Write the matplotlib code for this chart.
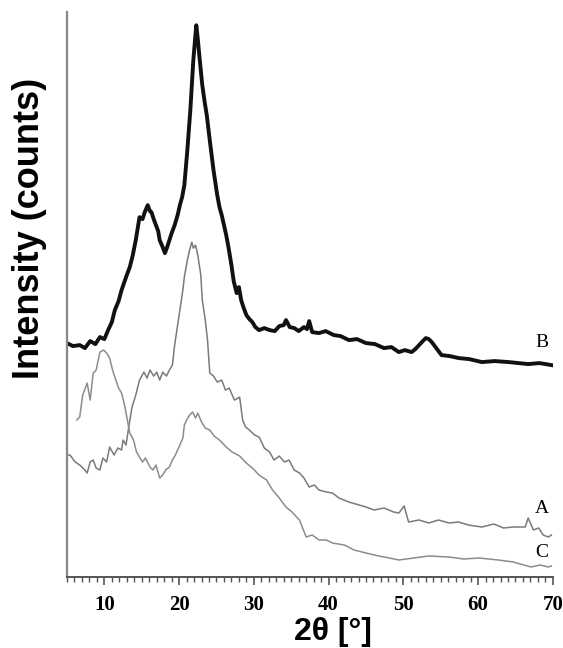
import numpy as np
import matplotlib.pyplot as plt
from matplotlib.ticker import MultipleLocator

# curve B (black, top)
b_x = [5.0, 5.8, 6.7, 7.4, 8.1, 8.8, 9.4, 10.0, 10.5, 11.0, 11.4, 11.9, 12.3, 12.9, 13.4,
       13.8, 14.2, 14.7, 15.1, 15.4, 15.8, 16.1, 16.3, 16.6, 16.9, 17.2, 17.4, 17.8,
       18.1, 18.4, 18.7, 19.0, 19.4, 19.8, 20.1, 20.4, 20.7, 21.1, 21.5, 21.9, 22.1,
       22.3, 22.5, 22.7, 23.1, 23.4, 23.7, 24.1, 24.6, 25.1, 25.4, 25.7, 26.3, 26.6,
       27.0, 27.3, 27.7, 28.0, 28.3, 28.6, 29.0, 29.4, 29.8, 30.2, 30.7, 31.4, 32.1,
       32.8, 33.4, 34.0, 34.3, 34.8, 35.4, 36.0, 36.7, 37.1, 37.4, 37.8, 38.7, 39.6,
       40.7, 41.6, 42.7, 43.8, 45.0, 46.2, 47.4, 48.4, 49.4, 50.2, 51.1, 51.6, 52.1,
       52.6, 53.0, 53.4, 53.8, 54.4, 55.1, 56.2, 57.4, 58.8, 60.5, 62.2, 64.1, 65.4,
       66.7, 68.2, 69.8]
b_y = [234, 231, 232, 229, 236, 233, 240, 238, 247, 255, 267, 276, 287, 300, 310,
       322, 337, 360, 358, 365, 372, 366, 365, 358, 352, 346, 337, 330,
       324, 330, 337, 344, 352, 362, 372, 380, 392, 427, 467, 517, 535,
       552, 538, 522, 492, 476, 462, 437, 407, 382, 370, 362, 342, 330,
       312, 296, 284, 290, 277, 270, 262, 258, 255, 250, 247, 249, 247,
       246, 251, 252, 257, 250, 249, 246, 250, 248, 256, 245, 244, 246,
       242, 241, 237, 238, 234, 233, 229, 230, 225, 227, 225, 228, 232,
       236, 239, 238, 235, 229, 222, 221, 219, 218, 215, 216, 215, 214,
       213, 214, 212]

# curve A (grey, middle)
a_x = [5.0, 5.4, 6.1, 6.7, 7.4, 7.7, 8.1, 8.5, 8.9, 9.4, 9.8, 10.3, 10.7, 11.3, 11.8,
       12.3, 12.5, 12.9, 13.3, 13.7, 14.2, 14.7, 15.3, 15.7, 16.1, 16.6, 17.0, 17.4,
       17.8, 18.3, 18.7, 19.1, 19.4, 19.7, 20.1, 20.5, 20.7, 21.1, 21.4, 21.7, 21.9,
       22.2, 22.5, 22.9, 23.1, 23.5, 23.8, 24.1, 24.6, 25.1, 25.7, 26.2, 26.7, 27.4,
       28.1, 28.5, 28.9, 29.4, 30.1, 30.7, 31.4, 32.1, 32.7, 33.4, 34.1, 34.7, 35.4,
       36.1, 36.7, 37.4, 38.1, 38.7, 39.7, 40.5, 41.4, 42.7, 44.1, 45.0, 46.1, 47.4,
       48.7, 49.4, 50.1, 50.7, 52.1, 53.4, 54.7, 56.1, 57.4, 58.7, 60.5, 62.1, 63.4,
       64.7, 66.3, 66.7, 67.4, 68.1, 68.7, 69.4, 69.8]
a_y = [122, 122, 115, 112, 107, 104, 115, 117, 109, 107, 119, 115, 130, 122, 129,
       127, 137, 132, 152, 170, 182, 197, 205, 199, 207, 201, 205, 197,
       205, 201, 207, 212, 232, 247, 267, 287, 300, 317, 327, 335, 329,
       332, 322, 302, 277, 257, 237, 204, 201, 195, 197, 187, 189, 177,
       180, 157, 150, 147, 142, 140, 129, 125, 117, 121, 115, 117, 107,
       104, 99, 90, 92, 87, 85, 84, 79, 75, 72, 70, 67, 69,
       65, 64, 71, 55, 57, 54, 57, 54, 55, 52, 50, 53, 49,
       50, 50, 59, 47, 49, 42, 40, 42]

# curve C (grey, bottom)
c_x = [6.3, 6.7, 7.1, 7.7, 8.1, 8.5, 8.9, 9.4, 9.9, 10.3, 10.7, 11.1, 11.4, 11.9,
       12.3, 12.7, 13.0, 13.4, 13.9, 14.3, 14.7, 15.1, 15.5, 16.1, 16.5, 16.9, 17.4,
       17.8, 18.2, 18.7, 19.1, 19.5, 20.1, 20.5, 20.7, 21.0, 21.4, 21.8, 22.2, 22.5,
       23.0, 23.5, 24.1, 24.7, 25.4, 26.3, 27.1, 28.1, 29.0, 29.8, 30.7, 31.7, 32.5,
       33.4, 34.3, 35.1, 36.1, 37.0, 37.8, 38.7, 39.7, 40.5, 42.1, 43.4, 45.0, 46.7,
       48.1, 49.4, 51.4, 53.4, 56.1, 58.1, 60.1, 62.7, 64.7, 66.1, 67.1, 68.3, 69.4,
       69.8]
c_y = [157, 160, 182, 194, 177, 204, 207, 225, 227, 224, 219, 207, 200, 189,
       184, 172, 160, 144, 137, 125, 120, 115, 119, 110, 107, 112, 99,
       102, 107, 110, 117, 122, 132, 139, 152, 157, 162, 165, 159, 164,
       155, 149, 147, 141, 137, 130, 125, 121, 114, 109, 102, 97, 87,
       79, 70, 65, 57, 40, 42, 37, 37, 34, 32, 27, 24, 21,
       19, 17, 19, 21, 20, 18, 19, 17, 15, 12, 10, 12, 10,
       11]

tick_vals = [10, 20, 30, 40, 50, 60, 70]

fig = plt.figure(figsize=(5.63, 6.48), dpi=100)
ax = fig.add_axes([0.119, 0.1096, 0.863, 0.8715])

ax.plot(b_x, b_y, color='#111111', lw=2.8)
ax.plot(a_x, a_y, color='#7a7a7a', lw=1.1)
ax.plot(c_x, c_y, color='#8c8c8c', lw=1.1)

ax.text(68.5, 235, 'B', family='Liberation Serif', fontsize=14, ha='center', va='center')
ax.text(68.5, 69, 'A', family='Liberation Serif', fontsize=14, ha='center', va='center')
ax.text(68.5, 24, 'C', family='Liberation Serif', fontsize=14, ha='center', va='center')

ax.set_xlim(5, 70)
ax.set_ylim(0, 565)
ax.set_xticks(tick_vals)
ax.xaxis.set_minor_locator(MultipleLocator(1))
ax.set_yticks([])
for s in ['top', 'right']:
    ax.spines[s].set_visible(False)
ax.spines['left'].set_color('#888888')
ax.spines['left'].set_linewidth(1.6)
ax.spines['bottom'].set_color('#555555')
ax.spines['bottom'].set_linewidth(1.4)
ax.tick_params(axis='x', which='major', length=6, width=1.2, color='#555555', pad=7)
ax.tick_params(axis='x', which='minor', length=3.5, width=1.0, color='#555555')
for lab in ax.get_xticklabels():
    lab.set_family('Liberation Serif')
    lab.set_fontweight('bold')
    lab.set_fontsize(15)

fig.text(0.592, 0.024, '2θ [°]', family='Liberation Sans', fontsize=23,
         fontweight='bold', ha='center', va='center')
fig.text(0.052, 0.648, 'Intensity (counts)', family='Liberation Sans', fontsize=26,
         fontweight='bold', rotation=90, ha='center', va='center')

fig.savefig('out.png', dpi=100)
